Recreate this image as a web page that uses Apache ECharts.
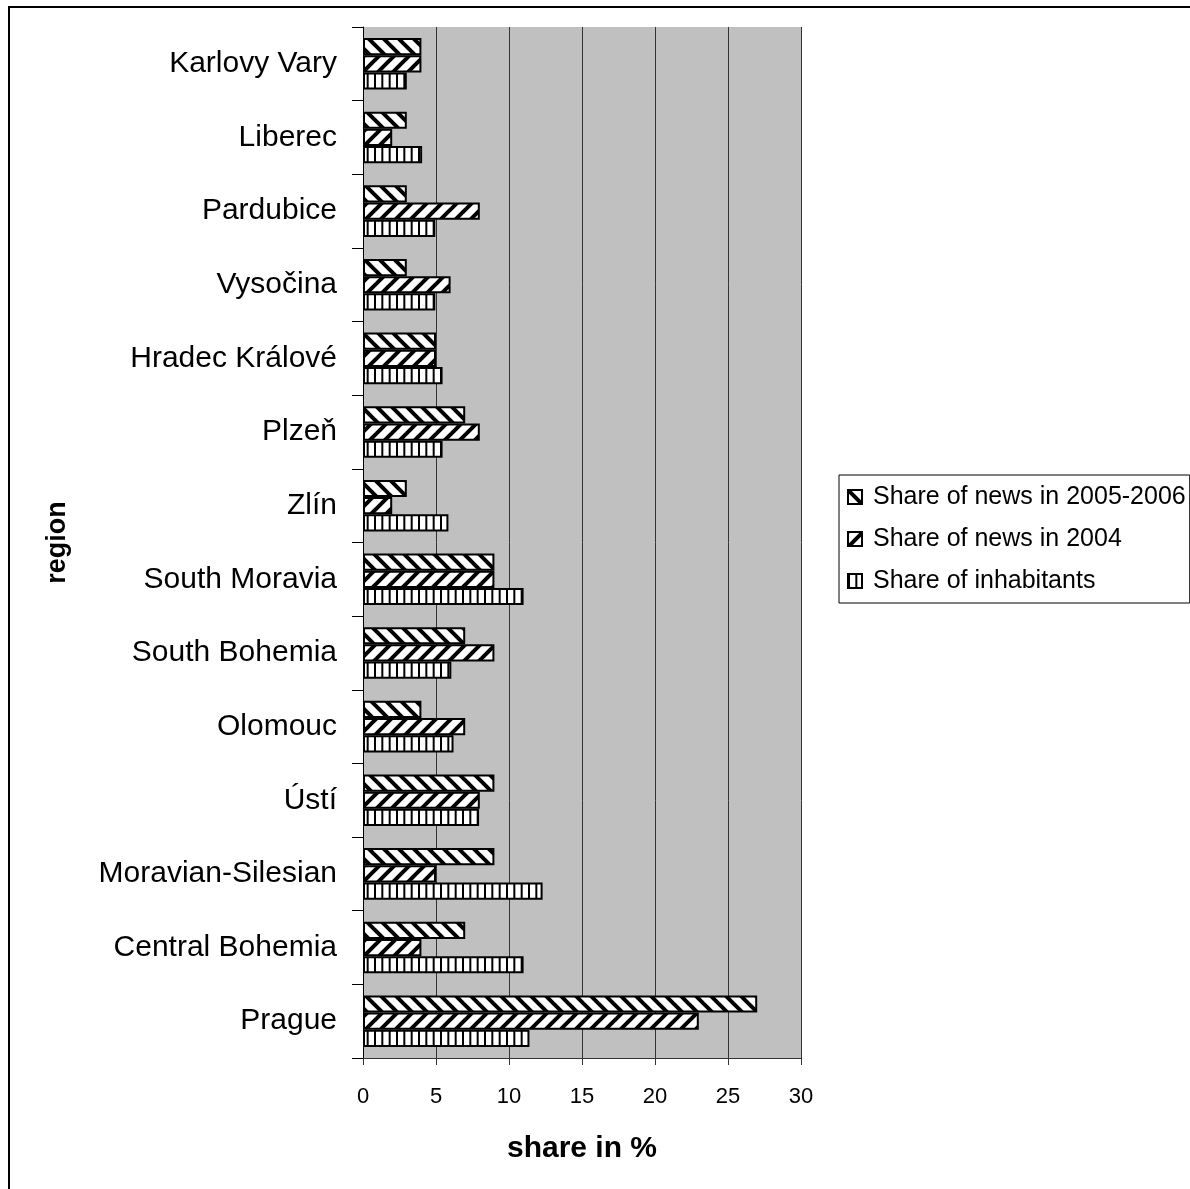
<!DOCTYPE html>
<html>
<head>
<meta charset="utf-8">
<script src="https://cdn.jsdelivr.net/npm/echarts@6/dist/echarts.min.js"></script>
<style>
html,body{margin:0;padding:0;background:#fff;}
#chart{width:1190px;height:1189px;}
</style>
</head>
<body>
<div id="chart"></div>
<script>
// Data (bottom to top as drawn)
const regions = ['Prague','Central Bohemia','Moravian-Silesian','Ústí','Olomouc','South Bohemia','South Moravia','Zlín','Plzeň','Hradec Králové','Vysočina','Pardubice','Liberec','Karlovy Vary'];
const news2005_2006 = [27, 7, 9, 9, 4, 7, 9, 3, 7, 5, 3, 3, 3, 4];
const news2004 = [23, 4, 5, 8, 7, 9, 9, 2, 8, 5, 6, 8, 2, 4];
const inhabitants = [11.4, 11.0, 12.3, 7.95, 6.2, 6.05, 11.0, 5.85, 5.45, 5.45, 4.95, 4.95, 4.05, 3.0];
const seriesNames = ['Share of news in 2005-2006','Share of news in 2004','Share of inhabitants'];
const xTicks = [0, 5, 10, 15, 20, 25, 30];

function diagPattern(down) {
  const P = 15;
  const c = document.createElement('canvas');
  c.width = P; c.height = P;
  const g = c.getContext('2d');
  g.fillStyle = '#fff';
  g.fillRect(0, 0, P, P);
  g.strokeStyle = '#000';
  g.lineWidth = 4;
  for (let k = -2; k <= 2; k++) {
    g.beginPath();
    if (down) {
      g.moveTo(k * P - P, -P);
      g.lineTo(k * P + 2 * P, 2 * P);
    } else {
      g.moveTo(k * P - P, 2 * P);
      g.lineTo(k * P + 2 * P, -P);
    }
    g.stroke();
  }
  return {image: c, repeat: 'repeat'};
}
function vertPattern() {
  const P = 22;
  const c = document.createElement('canvas');
  c.width = P; c.height = 4;
  const g = c.getContext('2d');
  g.fillStyle = '#fff';
  g.fillRect(0, 0, P, 4);
  g.fillStyle = '#000';
  [0, 7.33, 14.67].forEach(x => g.fillRect(x, 0, 2, 4));
  return {image: c, repeat: 'repeat'};
}

const FONT = "'Liberation Sans', Arial, sans-serif";
const chart = echarts.init(document.getElementById('chart'), null, {renderer: 'canvas'});

function barSeries(name, data, pattern) {
  return {
    name: name,
    type: 'bar',
    data: data,
    barGap: '0%',
    barCategoryGap: '30%',
    itemStyle: {color: pattern, borderColor: '#000', borderWidth: 2},
    emphasis: {disabled: true},
    animation: false
  };
}

chart.setOption({
  animation: false,
  backgroundColor: '#fff',
  textStyle: {fontFamily: FONT},
  graphic: [{
    type: 'rect',
    shape: {x: 9, y: 7, width: 1400, height: 1400},
    style: {fill: 'none', stroke: '#000', lineWidth: 2},
    silent: true
  }],
  grid: {
    left: 363, right: 389, top: 27, bottom: 131,
    show: true, backgroundColor: '#C0C0C0', borderWidth: 0
  },
  legend: {
    orient: 'vertical',
    left: 839, top: 475,
    data: seriesNames,
    backgroundColor: '#fff',
    borderColor: '#000',
    borderWidth: 1,
    padding: [9, 4, 9, 8],
    itemGap: 16,
    itemWidth: 14, itemHeight: 14,
    icon: 'rect',
    selectedMode: false,
    textStyle: {fontSize: 25, color: '#000', fontFamily: FONT, padding: [0, 0, 0, 6], lineHeight: 26}
  },
  xAxis: {
    type: 'value',
    min: 0, max: 30, interval: 5,
    name: 'share in %',
    nameLocation: 'middle',
    nameGap: 76,
    nameTextStyle: {fontSize: 30, fontWeight: 'bold', color: '#000', fontFamily: FONT},
    axisLine: {show: true, lineStyle: {color: '#333', width: 1}},
    axisTick: {show: true, length: 7, lineStyle: {color: '#333'}},
    axisLabel: {fontSize: 22, color: '#000', margin: 28, fontFamily: FONT},
    splitLine: {show: true, lineStyle: {color: '#333', width: 1}}
  },
  yAxis: {
    type: 'category',
    data: regions,
    name: 'region',
    nameLocation: 'middle',
    nameGap: 292,
    nameTextStyle: {fontSize: 27, fontWeight: 'bold', color: '#000', fontFamily: FONT},
    axisLine: {show: true, lineStyle: {color: '#000', width: 1}},
    axisTick: {show: true, length: 11, lineStyle: {color: '#000'}},
    axisLabel: {fontSize: 30, color: '#000', margin: 26, fontFamily: FONT},
    splitLine: {show: false}
  },
  series: [
    barSeries(seriesNames[0], news2005_2006, diagPattern(true)),
    barSeries(seriesNames[1], news2004, diagPattern(false)),
    barSeries(seriesNames[2], inhabitants, vertPattern())
  ]
});
</script>
</body>
</html>
